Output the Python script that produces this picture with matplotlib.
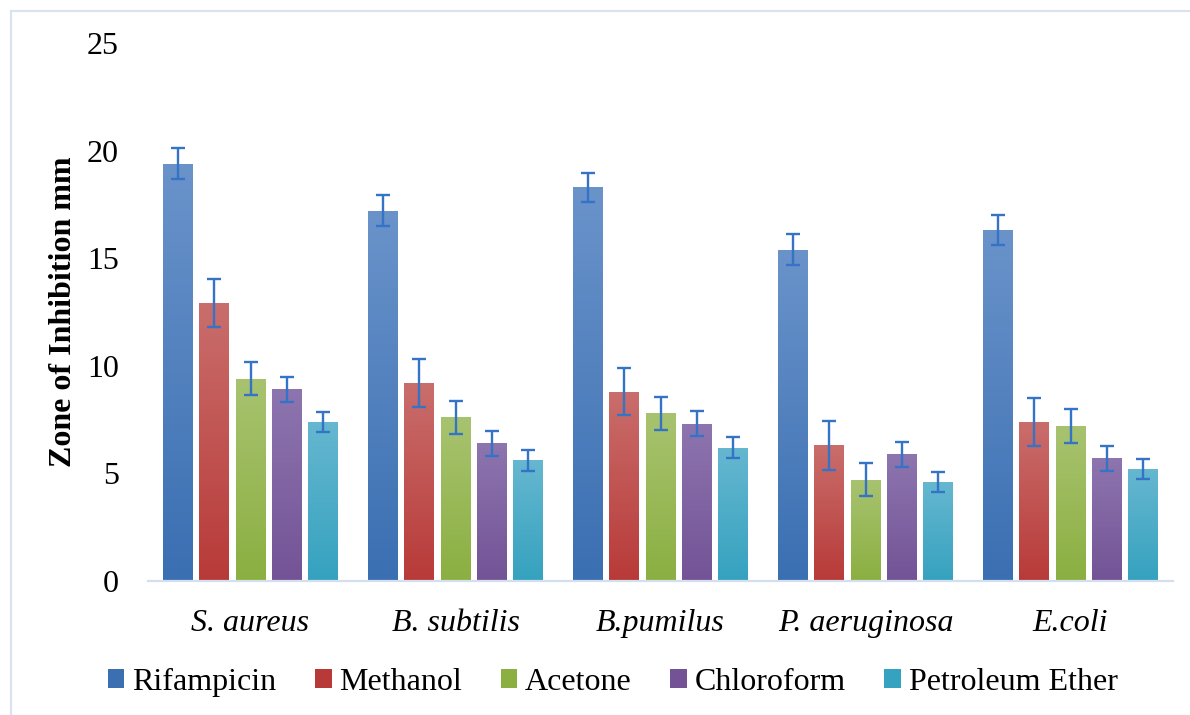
import numpy as np
import matplotlib
matplotlib.use("Agg")
import matplotlib.pyplot as plt
from matplotlib.colors import LinearSegmentedColormap
from matplotlib.patches import Patch
from matplotlib.lines import Line2D

# dati
batteri = ["S. aureus", "B. subtilis", "B.pumilus", "P. aeruginosa", "E.coli"]
serie = ["Rifampicin", "Methanol", "Acetone", "Chloroform", "Petroleum Ether"]

rifampicin = [19.4, 17.2, 18.3, 15.4, 16.3]
methanol = [12.9, 9.2, 8.8, 6.3, 7.4]
acetone = [9.4, 7.6, 7.8, 4.7, 7.2]
chloroform = [8.9, 6.4, 7.3, 5.9, 5.7]
pet_ether = [7.4, 5.6, 6.2, 4.6, 5.2]

err_rifampicin = [0.72, 0.72, 0.68, 0.72, 0.70]
err_methanol = [1.12, 1.12, 1.10, 1.12, 1.12]
err_acetone = [0.77, 0.75, 0.77, 0.77, 0.77]
err_chloroform = [0.58, 0.58, 0.58, 0.58, 0.58]
err_pet_ether = [0.47, 0.47, 0.47, 0.48, 0.48]

valori = [rifampicin, methanol, acetone, chloroform, pet_ether]
errori = [err_rifampicin, err_methanol, err_acetone, err_chloroform, err_pet_ether]

# colori sfumati (alto, basso)
colori = [("#6a93ca", "#3a6fb2"),
          ("#c96e6c", "#b83a38"),
          ("#a8c370", "#8baf41"),
          ("#8d75af", "#735396"),
          ("#66b7d0", "#35a2bf")]
colore_err = "#3473c6"

plt.rcParams["font.family"] = ["Liberation Serif", "DejaVu Serif"]
fs = 23

fig = plt.figure(figsize=(11.9, 7.15), dpi=100)
ax = fig.add_axes([148 / 1190, 1 - 581 / 715, (1173 - 148) / 1190, (581 - 43) / 715])

x = np.arange(len(batteri))
passo = 0.176
larghezza = 0.146

for j, (val, err) in enumerate(zip(valori, errori)):
    pos = x + (j - 2) * passo
    barre = ax.bar(pos, val, width=larghezza, color=colori[j][1], linewidth=0, zorder=2)
    cmap = LinearSegmentedColormap.from_list("g%d" % j, [colori[j][1], colori[j][0]])
    grad = np.linspace(0, 1, 256).reshape(-1, 1)
    for b in barre:
        x0, y0 = b.get_x(), b.get_y()
        w, h = b.get_width(), b.get_height()
        im = ax.imshow(grad, cmap=cmap, origin="lower", aspect="auto",
                       extent=[x0, x0 + w, y0, y0 + h], zorder=2.5)
        im.set_clip_path(b)
    ax.errorbar(pos, val, yerr=err, fmt="none", ecolor=colore_err,
                elinewidth=1.7, capsize=5, capthick=1.7, zorder=3)

ax.set_xlim(-0.5, 4.5)
ax.set_ylim(0, 25)
ax.set_yticks([0, 5, 10, 15, 20, 25])
ax.set_xticks(x)
ax.set_xticklabels(batteri, fontstyle="italic")
ax.tick_params(axis="y", length=0, pad=21, labelsize=fs)
ax.tick_params(axis="x", length=0, pad=20, labelsize=fs)

for s in ["top", "right", "left"]:
    ax.spines[s].set_visible(False)
ax.spines["bottom"].set_color("#d3deef")
ax.spines["bottom"].set_linewidth(1.6)
ax.set_ylabel("Zone of Inhibition mm", fontsize=fs, fontweight="bold", labelpad=6)

maniglie = [Patch(facecolor=colori[j][1], edgecolor="none") for j in range(len(serie))]
fig.legend(maniglie, serie, loc="center", bbox_to_anchor=(0.515, 0.046),
           ncol=5, frameon=False, fontsize=fs, handlelength=0.52, handleheight=0.52,
           handletextpad=0.25, columnspacing=1.2)

# cornice esterna
fig.add_artist(Line2D([11 / 1190, 1], [1 - 11 / 715, 1 - 11 / 715],
                      transform=fig.transFigure, color="#d9e3f0", linewidth=1.5))
fig.add_artist(Line2D([11 / 1190, 11 / 1190], [0, 1 - 11 / 715],
                      transform=fig.transFigure, color="#d9e3f0", linewidth=1.5))

fig.savefig("out.png", dpi=100)
plt.close(fig)
